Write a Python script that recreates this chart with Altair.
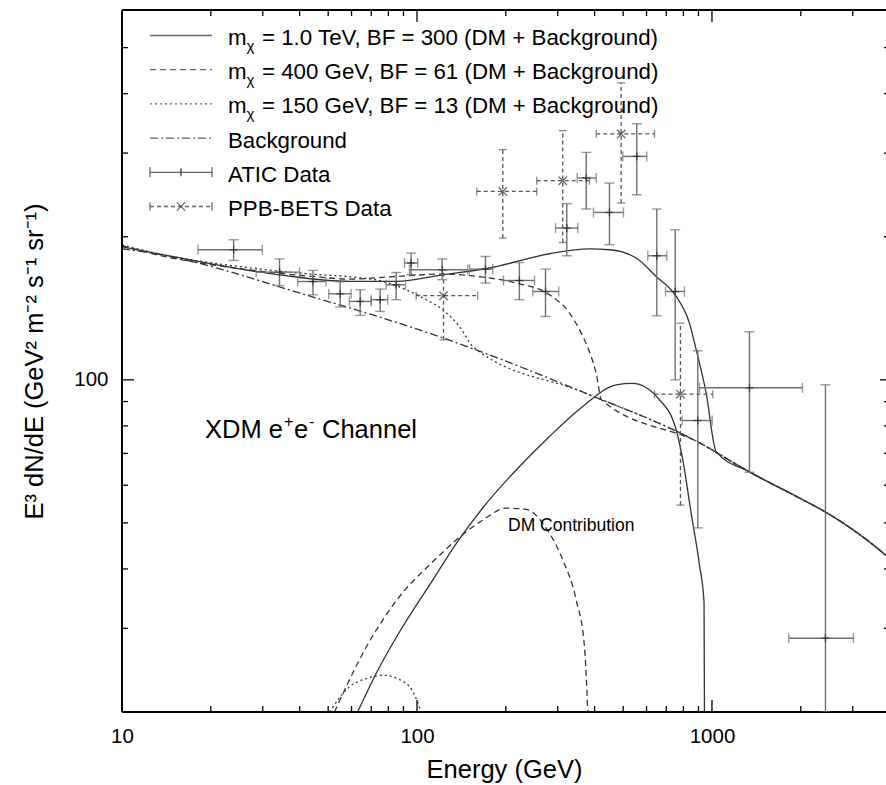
import altair as alt
import pandas as pd

FONT = "Liberation Sans"
X_DOMAIN = [10, 3890]
Y_DOMAIN = [20, 600]
W, H = 764, 702

# ---------------- axis tick values ----------------
x_major = [10, 100, 1000]
x_minor = [20, 30, 40, 50, 60, 70, 80, 90, 200, 300, 400, 500, 600, 700, 800, 900, 2000, 3000]
y_major = [100]
y_minor = [20, 30, 40, 50, 60, 70, 80, 90, 200, 300, 400, 500, 600]

# ---------------- model curves (E in GeV, E^3 dN/dE) ----------------
bg_E = [10, 12.4, 44.2, 122.0, 363.9, 907, 1340, 1980, 2425, 3873, 3890]
bg_F = [188.7, 185.1, 149.5, 122.6, 94.3, 73.7, 64.0, 56.4, 52.7, 42.8, 42.7]

tev_E = [10, 12.4, 34.2, 59.0, 85.0, 122.3, 176.1, 281.3, 384.3, 449, 553.4, 646.9, 756.3,
         838.8, 884, 955.6, 1033, 1340, 1980, 2425, 3873, 3890]
tev_F = [190.5, 185.7, 166.3, 161.1, 161.1, 166.3, 171.9, 184.2, 188.5, 187.8, 180.4, 165.0, 149.8,
         131.6, 115.7, 93.8, 70.6, 64.0, 56.4, 52.7, 42.8, 42.7]

g400_E = [10, 12.4, 27.0, 44.4, 59.0, 85.0, 122.3, 167.2, 216.9, 281.3, 328.9, 364.8, 384.3,
          406, 422, 907, 1340, 1980, 2425, 3873, 3890]
g400_F = [191.5, 184.8, 170.4, 165.0, 162.9, 165.0, 166.9, 164.5, 159.8, 151.0, 138.2, 123.4, 114.6,
          102.4, 90.8, 73.7, 64.0, 56.4, 52.7, 42.8, 42.7]

g150_E = [10, 12.4, 27.0, 44.4, 59.0, 76.6, 91.9, 107.5, 122.3, 139.3, 154.6, 162.9, 363.9,
          907, 1340, 1980, 2425, 3873, 3890]
g150_F = [192.4, 186.0, 172.1, 166.8, 164.8, 161.1, 154.7, 147.4, 140.4, 129.5, 117.5, 114.6, 94.3,
          73.7, 64.0, 56.4, 52.7, 42.8, 42.7]

# DM contributions alone
dm_tev_E = [62.9, 72.7, 87.3, 113.1, 135.8, 167.2, 216.9, 281.3, 364.8, 473.5, 537.7, 663.7,
            756, 796, 850, 907, 940, 943]
dm_tev_F = [20, 24.1, 29.5, 37.9, 45.2, 53.8, 64.6, 76.0, 87.9, 97.6, 98.3, 90.8,
            78.5, 67.9, 52.4, 40.8, 34.0, 20]

dm_400_E = [52.5, 67.3, 87.3, 113.1, 135.8, 167.2, 200.6, 234.5, 274.2, 312, 346.5, 369.7, 379.3]
dm_400_F = [20, 27.4, 35.0, 41.4, 46.0, 50.7, 53.7, 53.4, 48.7, 41.8, 34.4, 27.4, 20]

dm_150_E = [50.5, 59.0, 67.3, 76.6, 87.3, 96.8, 103.3]
dm_150_F = [20, 22.6, 23.5, 23.9, 23.4, 22.1, 20]

# ---------------- ATIC data ----------------
atic_E = [23.9, 34.2, 44.4, 54.9, 64.2, 75.0, 85.0, 95.5, 121.7, 170.7, 222.4, 272.7, 322.0,
          374.7, 449.3, 556.0, 650.1, 750.4, 895.1, 1340, 2425]
atic_Elo = [18.1, 28.5, 39.4, 50.2, 59.0, 69.9, 78.6, 90.7, 94.3, 150.7, 196.4, 246.9, 294.8,
            349.2, 396.5, 498.5, 606.0, 695.9, 792.5, 907, 1821]
atic_Ehi = [29.9, 40.0, 49.2, 59.8, 69.9, 79.6, 91.4, 100.6, 148.6, 180.7, 250.3, 302.5, 350.9,
            405.2, 501.2, 601.0, 702.9, 806.7, 1001.6, 2027, 3017]
atic_F = [187.8, 168.5, 161.0, 151.7, 146.2, 147.4, 158.5, 176.1, 170.4, 171.0, 161.8, 153.4, 208.6,
          265.9, 225.0, 295.2, 182.4, 153.4, 82.1, 96.2, 28.6]
atic_Flo = [178.3, 157.9, 151.0, 142.3, 136.6, 139.3, 147.4, 166.4, 162.4, 159.8, 147.4, 135.9, 182.4,
            228.8, 192.4, 245.2, 136.4, 100.0, 48.8, 63.9, 20]
atic_Fhi = [197.1, 179.6, 169.9, 160.8, 154.7, 155.2, 168.2, 184.8, 179.6, 181.8, 176.5, 171.0, 234.8,
            301.0, 259.4, 345.9, 228.8, 206.9, 115.1, 126.2, 97.6]

# ---------------- PPB-BETS data ----------------
ppb_E = [123.0, 195.4, 312.0, 492.3, 781.9]
ppb_Elo = [99.4, 159.5, 254.7, 405.2, 638.5]
ppb_Ehi = [160.7, 254.7, 384.3, 638.5, 1006]
ppb_F = [150.3, 249.1, 262.4, 329.1, 93.3]
ppb_Flo = [121.4, 198.8, 194.5, 235.5, 54.5]
ppb_Fhi = [170.4, 305.0, 334.4, 421.4, 131.6]

legend_labels = [
    "= 1.0 TeV, BF = 300 (DM + Background)",
    "= 400 GeV, BF = 61 (DM + Background)",
    "= 150 GeV, BF = 13 (DM + Background)",
    "Background",
    "ATIC Data",
    "PPB-BETS Data",
]

# ---------------- styles ----------------
LINE = "#333333"
ERR = "#6f6f6f"
PPBC = "#555555"
DASH = [6, 4]
DOT = [2, 3]
DASHDOT = [8, 3, 2, 3]
XSHAPE = "M-1,-1L1,1M1,-1L-1,1"

xs = alt.Scale(type="log", domain=X_DOMAIN, nice=False)
ys = alt.Scale(type="log", domain=Y_DOMAIN, nice=False)
one = pd.DataFrame({"k": [0]})

XAX = alt.Axis(values=x_major, format="d", domain=False, ticks=False, grid=False,
               labelFont=FONT, labelFontSize=20.5, labelColor="black", labelPadding=14,
               labelFlush=False, title="Energy (GeV)", titleFont=FONT, titleFontSize=25.5,
               titleFontWeight="normal", titleColor="black", titleBaseline="alphabetic",
               titleY=65)
YAX = alt.Axis(values=y_major, format="d", domain=False, ticks=False, grid=False,
               labelFont=FONT, labelFontSize=20.5, labelColor="black", labelPadding=14,
               title="E³ dN/dE (GeV² m⁻² s⁻¹ sr⁻¹)", titleFont=FONT, titleFontSize=25.5,
               titleFontWeight="normal", titleColor="black", titleBaseline="alphabetic",
               titleX=-80, titleY=H / 2)


def X(f):
    return alt.X(f, type="quantitative", scale=xs, axis=XAX)


def Y(f):
    return alt.Y(f, type="quantitative", scale=ys, axis=YAX)


def curve(E, F, dash=None, color=LINE, w=1.3):
    df = pd.DataFrame({"E": E, "F": F})
    kw = dict(color=color, strokeWidth=w, interpolate="monotone", clip=True)
    if dash:
        kw["strokeDash"] = dash
    return alt.Chart(df).mark_line(**kw).encode(x=X("E"), y=Y("F"))


def xticks(vals, length, top):
    df = pd.DataFrame({"E": vals})
    if top:
        yy, yy2 = alt.value(0), alt.value(length)
    else:
        yy, yy2 = alt.value(H), alt.value(H - length)
    return alt.Chart(df).mark_rule(color="black", strokeWidth=1.3).encode(x=X("E"), y=yy, y2=yy2)


def yticks(vals, length, right):
    df = pd.DataFrame({"F": vals})
    if right:
        xx, xx2 = alt.value(W + 4), alt.value(W + 4 - length)
    else:
        xx, xx2 = alt.value(0), alt.value(length)
    return alt.Chart(df).mark_rule(color="black", strokeWidth=1.3).encode(y=Y("F"), x=xx, x2=xx2)


def hrule(x1, x2, y, dash=None, color=LINE, w=1.3):
    kw = dict(color=color, strokeWidth=w)
    if dash:
        kw["strokeDash"] = dash
    return alt.Chart(one).mark_rule(**kw).encode(x=alt.value(x1), x2=alt.value(x2), y=alt.value(y))


def vrule(x, y1, y2, color=LINE, w=1.3):
    return alt.Chart(one).mark_rule(color=color, strokeWidth=w).encode(
        x=alt.value(x), y=alt.value(y1), y2=alt.value(y2))


def text(txt, x, y, size, align="left"):
    return alt.Chart(one).mark_text(text=txt, align=align, baseline="alphabetic", font=FONT,
                                    fontSize=size, color="black").encode(
        x=alt.value(x), y=alt.value(y))


layers = []

# curves (first layer carries the axes)
layers += [
    curve(bg_E, bg_F, DASHDOT),
    curve(tev_E, tev_F),
    curve(g400_E, g400_F, DASH),
    curve(g150_E, g150_F, DOT),
    curve(dm_tev_E, dm_tev_F),
    curve(dm_400_E, dm_400_F, DASH),
    curve(dm_150_E, dm_150_F, DOT),
]

# frame
layers += [vrule(0, 0, H, color="black", w=2), hrule(0, W, H, color="black", w=2),
           hrule(0, W, 0, color="black", w=2)]
# ticks
layers += [xticks(x_major, 12, False), xticks(x_minor, 6, False),
           xticks(x_major, 12, True), xticks(x_minor, 6, True),
           yticks(y_major, 12, False), yticks(y_minor, 6, False),
           yticks(y_major, 10, True), yticks(y_minor, 6, True)]

# ATIC
atic = pd.DataFrame({"E": atic_E, "Elo": atic_Elo, "Ehi": atic_Ehi,
                     "F": atic_F, "Flo": atic_Flo, "Fhi": atic_Fhi})
ab = alt.Chart(atic)
layers += [
    ab.mark_rule(color=ERR, strokeWidth=1.4).encode(x=X("Elo"), x2="Ehi", y=Y("F")),
    ab.mark_rule(color=ERR, strokeWidth=1.4, clip=True).encode(x=X("E"), y=Y("Flo"), y2="Fhi"),
    ab.mark_tick(orient="vertical", size=10, thickness=1.4, color=ERR).encode(x=X("Elo"), y=Y("F")),
    ab.mark_tick(orient="vertical", size=10, thickness=1.4, color=ERR).encode(x=X("Ehi"), y=Y("F")),
    ab.mark_tick(orient="horizontal", size=10, thickness=1.4, color=ERR, clip=True).encode(x=X("E"), y=Y("Flo")),
    ab.mark_tick(orient="horizontal", size=10, thickness=1.4, color=ERR).encode(x=X("E"), y=Y("Fhi")),
    ab.mark_tick(orient="vertical", size=8, thickness=1.3, color="#222").encode(x=X("E"), y=Y("F")),
    ab.mark_tick(orient="horizontal", size=8, thickness=1.3, color="#222").encode(x=X("E"), y=Y("F")),
]

# PPB-BETS
ppb = pd.DataFrame({"E": ppb_E, "Elo": ppb_Elo, "Ehi": ppb_Ehi,
                    "F": ppb_F, "Flo": ppb_Flo, "Fhi": ppb_Fhi})
pb = alt.Chart(ppb)
layers += [
    pb.mark_rule(color=PPBC, strokeWidth=1.3, strokeDash=[4, 3]).encode(x=X("Elo"), x2="Ehi", y=Y("F")),
    pb.mark_rule(color=PPBC, strokeWidth=1.3, strokeDash=[4, 3]).encode(x=X("E"), y=Y("Flo"), y2="Fhi"),
    pb.mark_tick(orient="vertical", size=8, thickness=1.3, color=PPBC).encode(x=X("Elo"), y=Y("F")),
    pb.mark_tick(orient="vertical", size=8, thickness=1.3, color=PPBC).encode(x=X("Ehi"), y=Y("F")),
    pb.mark_tick(orient="horizontal", size=8, thickness=1.3, color=PPBC).encode(x=X("E"), y=Y("Flo")),
    pb.mark_tick(orient="horizontal", size=8, thickness=1.3, color=PPBC).encode(x=X("E"), y=Y("Fhi")),
    pb.mark_point(shape=XSHAPE, size=70, filled=False, color="#333", strokeWidth=1.4).encode(
        x=X("E"), y=Y("F")),
]

# annotations
layers += [text("XDM e", 83, 428, 25.5), text("+", 162, 417, 16), text("e", 172, 428, 25.5),
           text("-", 187, 417, 16), text("Channel", 200, 428, 25.5),
           text("DM Contribution", 386, 521, 17.5)]

# legend
LX1, LX2, LXT = 28, 90, 106
FS = 22.3
for i, lab in enumerate(legend_labels):
    base = 35 + 34.2 * i
    ly = base - 9.5
    if i < 3:
        layers.append(hrule(LX1, LX2, ly, dash=[None, DASH, DOT][i], color="#666"))
        layers.append(text("m", LXT, base, FS))
        layers.append(text("χ", LXT + 18.5, base + 6, 15))
        layers.append(text(lab, LXT + 34, base, FS))
    elif i == 3:
        layers.append(hrule(LX1, LX2, ly, dash=DASHDOT, color="#666"))
        layers.append(text(lab, LXT, base, FS))
    elif i == 4:
        layers += [hrule(LX1, LX2, ly, color="#666"), vrule(LX1, ly - 5, ly + 5, color="#666"),
                   vrule(LX2, ly - 5, ly + 5, color="#666"),
                   vrule((LX1 + LX2) / 2, ly - 4, ly + 4, color="#333")]
        layers.append(text(lab, LXT, base, FS))
    else:
        layers += [hrule(LX1, LX2, ly, dash=[4, 3], color="#666"), vrule(LX1, ly - 4, ly + 4, color="#666"),
                   vrule(LX2, ly - 4, ly + 4, color="#666"),
                   alt.Chart(one).mark_point(shape=XSHAPE, size=70, filled=False, color="#444",
                                             strokeWidth=1.3).encode(x=alt.value((LX1 + LX2) / 2),
                                                                     y=alt.value(ly))]
        layers.append(text(lab, LXT, base, FS))

chart = alt.layer(*layers).properties(
    width=W, height=H,
    autosize=alt.AutoSizeParams(type="none"),
    padding={"left": 122, "top": 10, "right": 0, "bottom": 73},
).configure_view(stroke="transparent")

chart.save("out.html", embed_options={"renderer": "svg", "actions": False})
